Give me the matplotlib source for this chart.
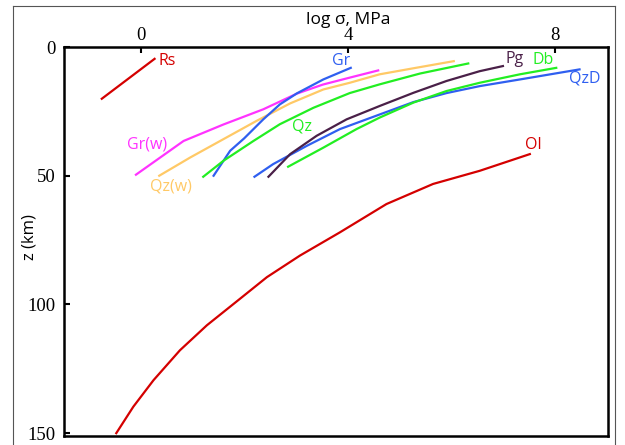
import matplotlib
matplotlib.use("Agg")
import matplotlib.pyplot as plt
from matplotlib.lines import Line2D

# ---- data (log sigma [MPa] vs depth z [km]) ----
rs_x = [-0.76, 0.26]
rs_z = [20.1, 4.6]

grw_x = [-0.10, 0.82, 1.59, 2.36, 3.01, 3.51, 4.03, 4.58]
grw_z = [49.6, 36.5, 30.1, 24.2, 18.1, 14.6, 11.9, 9.1]

qzw_x = [0.35, 0.95, 1.59, 2.23, 2.88, 3.52, 4.03, 4.61, 5.25, 6.04]
qzw_z = [50.0, 42.9, 35.8, 28.7, 21.9, 16.5, 13.9, 10.6, 8.3, 5.5]

gr_x = [1.40, 1.72, 1.99, 2.36, 2.68, 3.01, 3.52, 4.05]
gr_z = [50.0, 40.3, 35.5, 28.1, 22.3, 18.0, 12.6, 8.1]

qz_x = [1.20, 1.59, 2.17, 2.68, 3.33, 4.03, 4.61, 5.39, 6.32]
qz_z = [50.4, 44.2, 36.5, 30.0, 23.6, 17.9, 14.5, 10.3, 6.4]

qzd_x = [2.19, 2.55, 3.20, 3.84, 4.61, 5.26, 5.90, 6.54, 7.32, 8.47]
qzd_z = [50.4, 45.5, 38.4, 31.9, 26.2, 21.4, 17.9, 15.2, 12.6, 8.7]

db_x = [2.84, 3.52, 4.16, 4.61, 5.26, 5.90, 6.54, 7.32, 8.02]
db_z = [46.5, 39.1, 31.9, 27.4, 21.6, 17.1, 13.9, 10.6, 8.1]

pg_x = [2.46, 2.88, 3.39, 3.97, 4.61, 5.26, 5.90, 6.54, 6.99]
pg_z = [50.4, 41.6, 34.5, 28.1, 22.9, 17.8, 13.2, 9.4, 7.4]

ol_x = [-0.48, -0.15, 0.24, 0.75, 1.27, 1.91, 2.43, 3.07, 3.84, 4.74, 5.64, 6.54, 7.51]
ol_z = [150.0, 139.7, 129.4, 117.8, 108.1, 97.8, 89.4, 81.0, 72.0, 61.0, 53.2, 48.1, 41.6]

x_ticks = [0, 4, 8]
x_tick_labels = ['0', '4', '8']
z_ticks = [0, 50, 100, 150]
z_tick_labels = ['0', '50', '100', '150']

RED = '#d40000'
MAG = '#ff33ff'
ORA = '#ffc966'
BLU = '#2f5ff0'
GRN = '#22ee22'
PUR = '#4a2048'

fig = plt.figure(figsize=(6.25, 4.45), dpi=100)
ax = fig.add_axes([64/625, 1-436/445, 544/625, 389/445])

lw = 1.6
ax.plot(rs_x, rs_z, color=RED, lw=lw)
ax.plot(grw_x, grw_z, color=MAG, lw=lw)
ax.plot(qzw_x, qzw_z, color=ORA, lw=lw)
ax.plot(gr_x, gr_z, color=BLU, lw=lw)
ax.plot(qz_x, qz_z, color=GRN, lw=lw)
ax.plot(qzd_x, qzd_z, color=BLU, lw=lw)
ax.plot(db_x, db_z, color=GRN, lw=lw)
ax.plot(pg_x, pg_z, color=PUR, lw=lw)
ax.plot(ol_x, ol_z, color=RED, lw=lw)

lab_font = dict(family='Open Sans', fontsize=11.5, ha='center', va='center')
ax.text(0.50, 5.3, 'Rs', color=RED, **lab_font)
ax.text(3.86, 5.6, 'Gr', color=BLU, **lab_font)
ax.text(7.22, 4.5, 'Pg', color=PUR, **lab_font)
ax.text(7.76, 4.9, 'Db', color=GRN, **lab_font)
ax.text(8.57, 12.3, 'QzD', color=BLU, **lab_font)
ax.text(3.11, 30.9, 'Qz', color=GRN, **lab_font)
ax.text(0.12, 37.8, 'Gr(w)', color=MAG, **lab_font)
ax.text(0.58, 54.1, 'Qz(w)', color=ORA, **lab_font)
ax.text(7.57, 38.2, 'Ol', color=RED, **lab_font)

ax.set_xlim(-1.49, 9.02)
ax.set_ylim(151.1, 0.45)

ax.xaxis.tick_top()
ax.set_xticks(x_ticks, labels=x_tick_labels, fontfamily='Liberation Serif', fontsize=13.5)
ax.set_yticks(z_ticks, labels=z_tick_labels, fontfamily='Liberation Serif', fontsize=13.5)
ax.tick_params(axis='both', direction='in', length=4, width=1.5)
ax.tick_params(axis='x', pad=2.5)
ax.tick_params(axis='y', pad=6)
for s in ax.spines.values():
    s.set_linewidth(1.8)

ax.set_xlabel('log σ, MPa', family='Open Sans', fontsize=12.5)
ax.xaxis.set_label_position('top')
ax.xaxis.set_label_coords((348-64)/544, (436-20)/389)
ax.set_ylabel('z (km)', family='Open Sans', fontsize=12)
ax.yaxis.set_label_coords((30-64)/544, 0.5 - (237-241.5)/389)
ax.xaxis.label.set_va('center')
ax.yaxis.label.set_va('center')

# outer frame (cut at the bottom)
fc = '#555555'
x0, x1, yt = 13/625, 615/625, 1-6/445
fig.add_artist(Line2D([x0, x0], [0, yt], transform=fig.transFigure, color=fc, lw=0.8))
fig.add_artist(Line2D([x0, x1], [yt, yt], transform=fig.transFigure, color=fc, lw=0.8))
fig.add_artist(Line2D([x1, x1], [0, yt], transform=fig.transFigure, color=fc, lw=0.8))

fig.savefig('out.png', dpi=100)
